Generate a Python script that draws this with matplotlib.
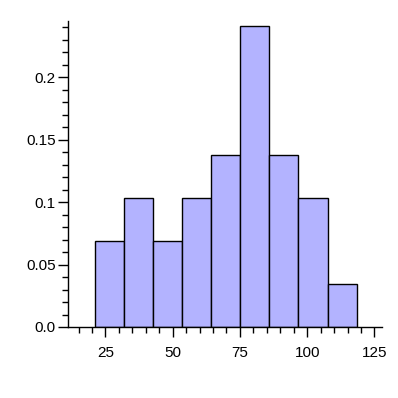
import numpy as np
import matplotlib.pyplot as plt
from matplotlib.ticker import MultipleLocator, FixedLocator

# histogram bins (edges) and relative frequencies
bin_edges = [21.0, 31.8, 42.6, 53.4, 64.3, 75.1, 85.9, 96.7, 107.6, 118.4]
heights = [0.069, 0.1034, 0.069, 0.1034, 0.138, 0.2414, 0.138, 0.1034, 0.0345]
xtick_vals = [25, 50, 75, 100, 125]
ytick_vals = [0.0, 0.05, 0.1, 0.15, 0.2]
ytick_labels = ["0.0", "0.05", "0.1", "0.15", "0.2"]

plt.rcParams['font.family'] = ['Liberation Sans', 'DejaVu Sans']

fig = plt.figure(figsize=(3.98, 3.98), dpi=100)
ax = fig.add_axes([0.1709, 0.1784, 0.959 - 0.1709, 0.947 - 0.1784])

edges = np.array(bin_edges)
ax.bar(edges[:-1], heights, width=np.diff(edges), align='edge',
       color='#b3b3ff', edgecolor='black', linewidth=1.0)

ax.set_xlim(11.1, 127.7)
ax.set_ylim(0, 0.2451)

for s in ['top', 'right']:
    ax.spines[s].set_visible(False)
for s in ['left', 'bottom']:
    ax.spines[s].set_linewidth(1.0)

ax.xaxis.set_major_locator(FixedLocator(xtick_vals))
ax.xaxis.set_minor_locator(MultipleLocator(5))
ax.set_yticks(ytick_vals)
ax.set_yticklabels(ytick_labels)
ax.yaxis.set_minor_locator(MultipleLocator(0.01))

ax.tick_params(axis='both', which='major', length=7, width=1, labelsize=11, pad=7)
ax.tick_params(axis='both', which='minor', length=4.5, width=1)
ax.tick_params(axis='y', which='major', pad=2)

fig.savefig('out.png', dpi=100)
